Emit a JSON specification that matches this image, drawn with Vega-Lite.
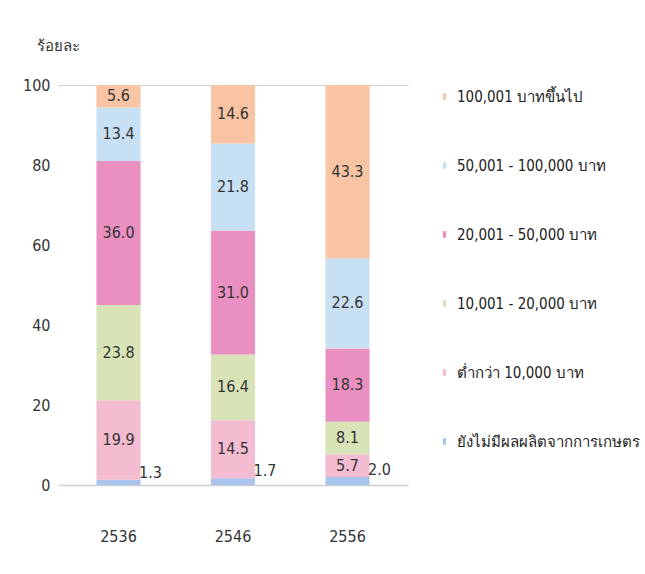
{
  "$schema": "https://vega.github.io/schema/vega-lite/v6.json",
  "autosize": "none",
  "width": 350,
  "height": 400,
  "padding": {"left": 58, "top": 85, "right": 237, "bottom": 89},
  "background": "white",
  "config": {
    "view": {"stroke": null},
    "font": "DejaVu Sans Condensed, Liberation Sans Narrow, sans-serif"
  },
  "datasets": {
    "cats": [
      {"cat": "ยังไม่มีผลผลิตจากการเกษตร", "rank": 1},
      {"cat": "ต่ำกว่า 10,000 บาท", "rank": 2},
      {"cat": "10,001 - 20,000 บาท", "rank": 3},
      {"cat": "20,001 - 50,000 บาท", "rank": 4},
      {"cat": "50,001 - 100,000 บาท", "rank": 5},
      {"cat": "100,001 บาทขึ้นไป", "rank": 6}
    ]
  },
  "data": {
    "values": [
      {"year": "2536", "cat": "ยังไม่มีผลผลิตจากการเกษตร", "value": 1.3},
      {"year": "2536", "cat": "ต่ำกว่า 10,000 บาท", "value": 19.9},
      {"year": "2536", "cat": "10,001 - 20,000 บาท", "value": 23.8},
      {"year": "2536", "cat": "20,001 - 50,000 บาท", "value": 36.0},
      {"year": "2536", "cat": "50,001 - 100,000 บาท", "value": 13.4},
      {"year": "2536", "cat": "100,001 บาทขึ้นไป", "value": 5.6},
      {"year": "2546", "cat": "ยังไม่มีผลผลิตจากการเกษตร", "value": 1.7},
      {"year": "2546", "cat": "ต่ำกว่า 10,000 บาท", "value": 14.5},
      {"year": "2546", "cat": "10,001 - 20,000 บาท", "value": 16.4},
      {"year": "2546", "cat": "20,001 - 50,000 บาท", "value": 31.0},
      {"year": "2546", "cat": "50,001 - 100,000 บาท", "value": 21.8},
      {"year": "2546", "cat": "100,001 บาทขึ้นไป", "value": 14.6},
      {"year": "2556", "cat": "ยังไม่มีผลผลิตจากการเกษตร", "value": 2.0},
      {"year": "2556", "cat": "ต่ำกว่า 10,000 บาท", "value": 5.7},
      {"year": "2556", "cat": "10,001 - 20,000 บาท", "value": 8.1},
      {"year": "2556", "cat": "20,001 - 50,000 บาท", "value": 18.3},
      {"year": "2556", "cat": "50,001 - 100,000 บาท", "value": 22.6},
      {"year": "2556", "cat": "100,001 บาทขึ้นไป", "value": 43.3}
    ]
  },
  "transform": [
    {"lookup": "cat", "from": {"data": {"name": "cats"}, "key": "cat", "fields": ["rank"]}},
    {"stack": "value", "groupby": ["year"], "sort": [{"field": "rank", "order": "ascending"}], "as": ["y0", "y1"]},
    {"calculate": "(datum.y0 + datum.y1) / 2", "as": "mid"}
  ],
  "encoding": {
    "x": {
      "field": "year", "type": "nominal",
      "scale": {"paddingInner": 0.615, "paddingOuter": 0.336},
      "axis": {
        "title": null, "labelAngle": 0, "ticks": false,
        "domainColor": "#cfcfcf", "domainWidth": 1.5,
        "labelPadding": 43, "labelFontSize": 16, "labelColor": "#333333"
      }
    }
  },
  "layer": [
    {
      "mark": {"type": "bar"},
      "encoding": {
        "y": {
          "field": "y0", "type": "quantitative",
          "scale": {"domain": [0, 100], "nice": false},
          "axis": {
            "values": [0, 20, 40, 60, 80, 100],
            "title": "ร้อยละ", "titleAngle": 0, "titleAlign": "left", "titleBaseline": "middle",
            "titleX": -22, "titleY": -40, "titleFontSize": 15, "titleFontWeight": "normal", "titleColor": "#333333",
            "domain": false, "ticks": false, "labelPadding": 8,
            "labelFontSize": 16, "labelColor": "#333333",
            "grid": true,
            "gridColor": {"condition": {"test": "datum.value == 100", "value": "#d0d0d0"}, "value": "transparent"}
          }
        },
        "y2": {"field": "y1"},
        "color": {
          "field": "cat", "type": "nominal",
          "scale": {
            "domain": ["ยังไม่มีผลผลิตจากการเกษตร", "ต่ำกว่า 10,000 บาท", "10,001 - 20,000 บาท", "20,001 - 50,000 บาท", "50,001 - 100,000 บาท", "100,001 บาทขึ้นไป"],
            "range": ["#a9c4ec", "#f4bcd0", "#d8e4b8", "#ea90c0", "#c8e0f4", "#f8c4a4"]
          },
          "legend": {
            "title": null, "orient": "none", "legendX": 379, "legendY": 4,
            "values": ["100,001 บาทขึ้นไป", "50,001 - 100,000 บาท", "20,001 - 50,000 บาท", "10,001 - 20,000 บาท", "ต่ำกว่า 10,000 บาท", "ยังไม่มีผลผลิตจากการเกษตร"],
            "symbolType": "M-0.25,-0.5H0.25V0.5H-0.25Z", "symbolSize": 169, "symbolStrokeWidth": 0,
            "symbolOpacity": 1,
            "labelFontSize": 15, "labelColor": "#222222", "labelOffset": 5, "labelLimit": 300,
            "rowPadding": 53, "padding": 0
          }
        }
      }
    },
    {
      "transform": [{"filter": "datum.rank > 1"}],
      "mark": {"type": "text", "fontSize": 16, "color": "#333333", "baseline": "middle"},
      "encoding": {
        "y": {"field": "mid", "type": "quantitative"},
        "text": {"field": "value", "type": "quantitative", "format": ".1f"}
      }
    },
    {
      "transform": [{"filter": "datum.rank == 1"}],
      "mark": {"type": "text", "fontSize": 16, "color": "#333333", "baseline": "bottom", "dx": 32, "dy": 1},
      "encoding": {
        "y": {"field": "y1", "type": "quantitative"},
        "text": {"field": "value", "type": "quantitative", "format": ".1f"}
      }
    }
  ]
}
